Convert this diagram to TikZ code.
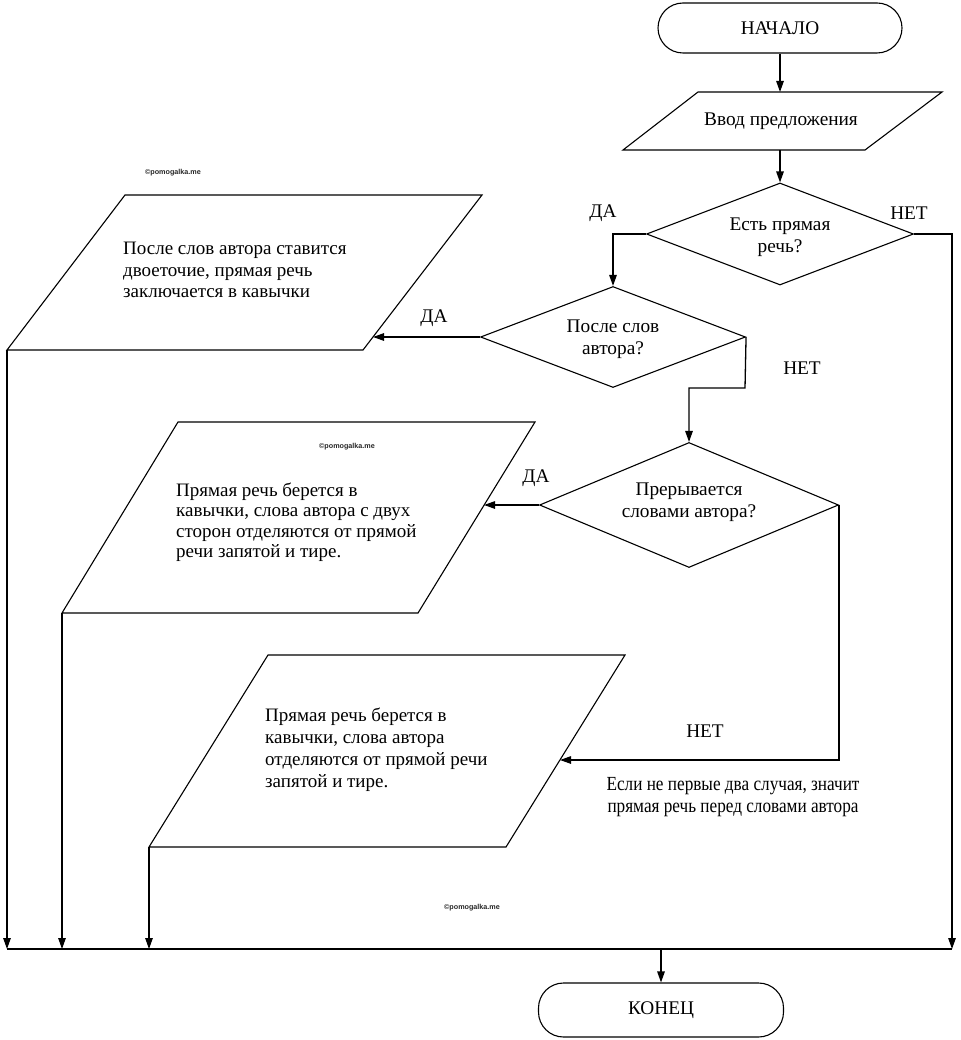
\documentclass[tikz,border=0pt]{standalone}
\usepackage{fontspec}
\setmainfont{Liberation Serif}
\setsansfont{Liberation Sans}
\newfontfamily\condfont[FakeStretch=0.86]{Liberation Serif}
\usetikzlibrary{arrows.meta,shapes.geometric}
\begin{document}
\begin{tikzpicture}[x=1pt,y=-1pt,
  shapeline/.style={draw=black,line width=1.1pt},
  term/.style={shapeline,rectangle,rounded corners=25pt,inner sep=0pt,font=\fontsize{19.3}{22}\selectfont},
  dec/.style={shapeline,diamond,inner sep=0pt,align=center},
  arr/.style={line width=1.3pt,-{Triangle[length=11pt,width=7.5pt]}},
  conn/.style={line width=1.3pt},
  lbl/.style={font=\fontsize{19.3}{22}\selectfont,inner sep=0pt},
  body/.style={font=\fontsize{19}{21.5}\selectfont,align=left,inner sep=0pt,anchor=west},
  wm/.style={font=\sffamily\bfseries\fontsize{7.2}{8}\selectfont,inner sep=0pt,text=black!85}
]
\useasboundingbox (0,0) rectangle (960,1040);

% terminals
\node[term,minimum width=244pt,minimum height=50pt] (start) at (780,28) {НАЧАЛО};
\node[term,minimum width=245pt,minimum height=54pt] (stop) at (661,1010) {КОНЕЦ};

% input parallelogram
\coordinate (inA) at (623,150);
\coordinate (inB) at (698,92);
\coordinate (inC) at (942,92);
\coordinate (inD) at (865,150);
\draw[shapeline] (inA) -- (inB) -- (inC) -- (inD) -- cycle;
\node[lbl] (intext) at (781,121) {Ввод предложения};
\coordinate (inTop) at (780,92);
\coordinate (inBot) at (780,150);

% decisions
\node[dec,minimum width=267pt,minimum height=102pt] (d1) at (780,234) {};
\node[lbl,align=center,font=\fontsize{19.3}{22.5}\selectfont] (d1t) at (780,237) {Есть прямая\\речь?};
\node[dec,minimum width=265pt,minimum height=101pt] (d2) at (613,337) {};
\node[lbl,align=center,font=\fontsize{19.3}{22.5}\selectfont] (d2t) at (613,339) {После слов\\автора?};
\node[dec,minimum width=299pt,minimum height=125pt] (d3) at (689,505) {};
\node[lbl,align=center,font=\fontsize{19.3}{22.5}\selectfont] (d3t) at (689,502) {Прерывается\\словами автора?};

% output parallelograms
\coordinate (p1bl) at (7,350);
\coordinate (p1tl) at (125,195);
\coordinate (p1tr) at (482,195);
\coordinate (p1br) at (363,350);
\draw[shapeline] (p1bl) -- (p1tl) -- (p1tr) -- (p1br) -- cycle;
\coordinate (p1in) at (373,337);
\node[body] (p1text) at (123,270) {После слов автора ставится\\двоеточие, прямая речь\\заключается в кавычки};

\coordinate (p2bl) at (62,613);
\coordinate (p2tl) at (178,422);
\coordinate (p2tr) at (535,422);
\coordinate (p2br) at (418,613);
\draw[shapeline] (p2bl) -- (p2tl) -- (p2tr) -- (p2br) -- cycle;
\coordinate (p2in) at (484,505);
\node[body,font=\fontsize{19}{20.5}\selectfont] (p2text) at (176,522) {Прямая речь берется в\\кавычки, слова автора с двух\\сторон отделяются от прямой\\речи запятой и тире.};

\coordinate (p3bl) at (149,847);
\coordinate (p3tl) at (268,655);
\coordinate (p3tr) at (625,655);
\coordinate (p3br) at (506,847);
\draw[shapeline] (p3bl) -- (p3tl) -- (p3tr) -- (p3br) -- cycle;
\coordinate (p3in) at (560,760);
\node[body,font=\fontsize{19}{22}\selectfont] (p3text) at (265,750) {Прямая речь берется в\\кавычки, слова автора\\отделяются от прямой речи\\запятой и тире.};

% labels
\node[lbl] (da1) at (603,213) {ДА};
\node[lbl] (net1) at (909,213) {НЕТ};
\node[lbl] (da2) at (434,318) {ДА};
\node[lbl] (net2) at (802,368) {НЕТ};
\node[lbl] (da3) at (536,478) {ДА};
\node[lbl] (net3) at (705,731) {НЕТ};
\node[lbl,align=center,font=\condfont\fontsize{20}{21.5}\selectfont] (note) at (733,797) {Если не первые два случая, значит\\прямая речь перед словами автора};

% watermarks
\node[wm] (wm1) at (173,173) {©pomogalka.me};
\node[wm] (wm2) at (347,447) {©pomogalka.me};
\node[wm] (wm3) at (472,908) {©pomogalka.me};

% connectors
\draw[arr] (start.south) -- (inTop);
\draw[arr] (inBot) -- (d1.north);
\draw[arr] (d1.west) -| (d2.north);
\coordinate (rbot) at (952,949);
\draw[arr] (d1.east) -| (rbot);
\draw[arr] (d2.west) -- (p1in);
\coordinate (k2) at (745,388);
\draw[arr] (d2.east) -- (k2) -| (d3.north);
\draw[arr] (d3.west) -- (p2in);
\draw[arr] (d3.east) |- (p3in);

\coordinate (b1) at (7,949);
\coordinate (b2) at (62,949);
\coordinate (b3) at (149,949);
\coordinate (bm) at (661,949);
\draw[arr] (p1bl) -- (b1);
\draw[arr] (p2bl) -- (b2);
\draw[arr] (p3bl) -- (b3);
\draw[conn] (b1) -- (rbot);
\draw[arr] (bm) -- (stop.north);
\end{tikzpicture}
\end{document}
